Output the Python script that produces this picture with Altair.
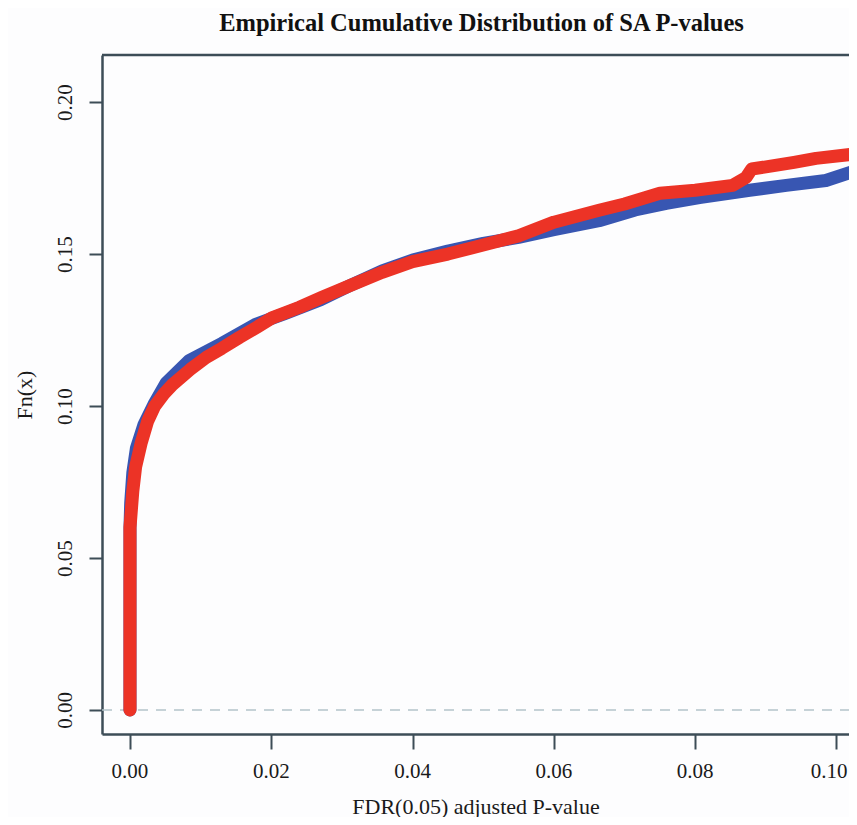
import altair as alt
import pandas as pd

# Blue ECDF
blue_x = [0, 0, 0.0001, 0.0004, 0.0009, 0.002, 0.0035, 0.0051, 0.0084, 0.013, 0.0179, 0.022,
          0.027, 0.031, 0.0357, 0.040, 0.045, 0.050, 0.055, 0.060, 0.0664, 0.0715, 0.0759,
          0.0806, 0.0877, 0.0929, 0.0985, 0.1028]
blue_y = [0, 0.06, 0.068, 0.078, 0.086, 0.094, 0.101, 0.1075, 0.115, 0.1206, 0.127, 0.1305,
          0.135, 0.1395, 0.1445, 0.148, 0.151, 0.1535, 0.1555, 0.158, 0.161, 0.1645, 0.1667,
          0.1686, 0.171, 0.1726, 0.1742, 0.1775]

# Red ECDF
red_x = [0, 0, 0.0002, 0.0004, 0.0008, 0.0016, 0.0025, 0.0035, 0.0048, 0.006, 0.0085, 0.0108,
         0.013, 0.0155, 0.018, 0.0201, 0.024, 0.0272, 0.031, 0.0357, 0.040, 0.045, 0.050,
         0.055, 0.060, 0.0664, 0.070, 0.075, 0.080, 0.0853, 0.0872, 0.088, 0.0909, 0.094,
         0.0971, 0.1028]
red_y = [0, 0.06, 0.066, 0.072, 0.080, 0.088, 0.095, 0.100, 0.104, 0.107, 0.112, 0.116,
         0.119, 0.1226, 0.126, 0.129, 0.1325, 0.1358, 0.1395, 0.144, 0.1475, 0.150, 0.153,
         0.156, 0.1605, 0.1644, 0.1665, 0.170, 0.171, 0.1726, 0.1752, 0.178, 0.179, 0.1802,
         0.1815, 0.1830]

x_ticks = [0.0, 0.02, 0.04, 0.06, 0.08, 0.10]
x_tick_labels = ["0.00", "0.02", "0.04", "0.06", "0.08", "0.10"]
y_ticks = [0.0, 0.05, 0.10, 0.15, 0.20]

W, H = 747, 679
X_DOMAIN = [-0.00396, -0.00396 + W / 7065]
Y_DOMAIN = [-0.0079, 0.2155]
AXIS = "#3d4d57"
FONT = "Liberation Serif"
TXT = "#1a1a1a"

blue = pd.DataFrame({"x": blue_x, "y": blue_y, "order": range(len(blue_x))})
red = pd.DataFrame({"x": red_x, "y": red_y, "order": range(len(red_x))})
xlab = pd.DataFrame({"v": x_ticks, "t": x_tick_labels})

xs = alt.Scale(domain=X_DOMAIN, nice=False, zero=False)
ys = alt.Scale(domain=Y_DOMAIN, nice=False, zero=False)

x_axis = alt.Axis(values=x_ticks, labels=False, grid=False, tickSize=15, tickWidth=2,
                  domainWidth=2.5, domainColor=AXIS, tickColor=AXIS,
                  title="FDR(0.05) adjusted P-value", titleFont=FONT, titleFontSize=22,
                  titleFontWeight="normal", titleColor=TXT, titlePadding=46)
y_axis = alt.Axis(values=y_ticks, format=".2f", grid=False, tickSize=13, tickWidth=2,
                  domainWidth=2.5, domainColor=AXIS, tickColor=AXIS, labelFont=FONT,
                  labelFontSize=21, labelColor=TXT, labelAngle=270,
                  labelAlign="center", labelBaseline="bottom", labelPadding=14,
                  title="Fn(x)", titleFont=FONT, titleFontSize=22, titleFontWeight="normal",
                  titleColor=TXT, titlePadding=18)

base_rule = alt.Chart(pd.DataFrame({"y": [0.0]})).mark_rule(
    color="#b4c4ca", strokeDash=[10, 8], strokeWidth=1.5
).encode(
    x=alt.X("xmin:Q", scale=xs, axis=x_axis),
    y=alt.Y("y:Q", scale=ys, axis=y_axis),
).transform_calculate(xmin=str(X_DOMAIN[0])).encode(
    x2=alt.datum(X_DOMAIN[1])
)

top_line = alt.Chart(pd.DataFrame({"a": [1]})).mark_rule(
    color=AXIS, strokeWidth=2.5
).encode(x=alt.value(0), x2=alt.value(W), y=alt.value(0))

# x tick labels as text through the x scale (last one kept inside the visible page)
lab_mid = alt.Chart(xlab).transform_filter("datum.v < 0.09").mark_text(
    font=FONT, fontSize=21, color=TXT, baseline="top", align="center"
).encode(x=alt.X("v:Q", scale=xs, axis=x_axis), y=alt.value(H + 27), text="t:N")
lab_end = alt.Chart(xlab).transform_filter("datum.v > 0.09").mark_text(
    font=FONT, fontSize=21, color=TXT, baseline="top", align="right", dx=11
).encode(x=alt.X("v:Q", scale=xs, axis=x_axis), y=alt.value(H + 27), text="t:N")

def curve(df, color):
    return alt.Chart(df).mark_line(
        color=color, strokeWidth=13, strokeCap="round", strokeJoin="round", clip=True
    ).encode(
        x=alt.X("x:Q", scale=xs, axis=x_axis),
        y=alt.Y("y:Q", scale=ys, axis=y_axis),
        order="order:Q",
    )

chart = alt.layer(
    base_rule, curve(blue, "#3856b2"), curve(red, "#ec3326"), top_line, lab_mid, lab_end
).properties(
    width=W, height=H,
    title=alt.Title("Empirical Cumulative Distribution of SA P-values", font=FONT,
                    fontSize=24.5, fontWeight="bold", color="#111111", offset=17,
                    dx=6, anchor="middle"),
    autosize=alt.AutoSizeParams(type="none"),
    padding={"left": 94, "top": 47, "right": 0, "bottom": 83},
).configure_view(stroke=None).configure(background="#fdfdfe")

chart.save("out.html", embed_options={"renderer": "svg", "actions": False})
